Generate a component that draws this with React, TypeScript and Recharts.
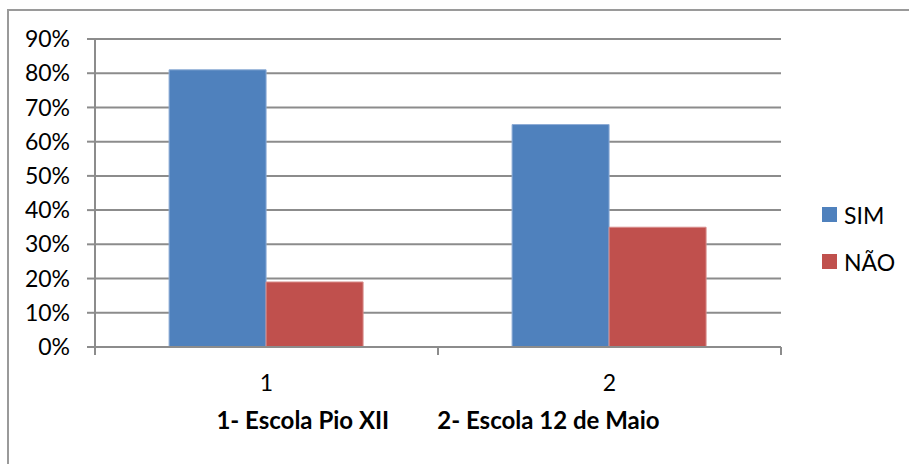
import React from 'react';
import { BarChart, Bar, XAxis, YAxis, CartesianGrid } from 'recharts';

const categories = ['1', '2'];
const sim = [0.81, 0.65];
const nao = [0.19, 0.35];
const yTicks = [0, 0.1, 0.2, 0.3, 0.4, 0.5, 0.6, 0.7, 0.8, 0.9];

const data = categories.map((c, i) => ({ name: c, SIM: sim[i], NAO: nao[i] }));

const FONT = 'Lato, "Open Sans", sans-serif';
const GRAY = '#8c8c8c';

const XTick = (props: any) => {
  const { x, y, payload, index, visibleTicksCount } = props;
  const half = payload.offset || 0;
  const axisY = y - 8;
  return (
    <g>
      <line x1={x - half} y1={axisY} x2={x - half} y2={axisY + 8} stroke={GRAY} strokeWidth={2} />
      {index === visibleTicksCount - 1 && (
        <line x1={x + half} y1={axisY} x2={x + half} y2={axisY + 8} stroke={GRAY} strokeWidth={2} />
      )}
      <text x={x} y={axisY + 44} textAnchor="middle" fontSize={23} fill="#000" fontFamily={FONT}>
        {payload.value}
      </text>
    </g>
  );
};

const legendItems = [
  { label: 'SIM', color: '#4F81BD' },
  { label: 'NÃO', color: '#C0504D' },
];

export default function App() {
  return (
    <div style={{ position: 'absolute', left: 0, top: 0, width: 909, height: 464, overflow: 'hidden', background: '#fff' }}>
      <div style={{ position: 'absolute', left: 7, top: 9, width: 960, height: 500, borderLeft: '2px solid #9a9a9a', borderTop: '2px solid #9a9a9a' }} />
      <BarChart
        width={909}
        height={464}
        data={data}
        margin={{ top: 39, right: 128, left: 7, bottom: 77 }}
        barCategoryGap="21.6%"
        barGap={0}
      >
        <CartesianGrid vertical={false} stroke={GRAY} strokeWidth={2} />
        <XAxis
          dataKey="name"
          height={40}
          axisLine={{ stroke: GRAY, strokeWidth: 2 }}
          tickLine={false}
          tick={<XTick />}
          interval={0}
        />
        <YAxis
          width={88}
          domain={[0, 0.9]}
          ticks={yTicks}
          interval={0}
          tickFormatter={(v: number) => `${Math.round(v * 100)}%`}
          axisLine={{ stroke: GRAY, strokeWidth: 2 }}
          tickLine={{ stroke: GRAY, strokeWidth: 2 }}
          tickSize={8}
          tickMargin={17}
          tick={{ fontSize: 23, fill: '#000', fontFamily: FONT }}
        />
        <Bar dataKey="SIM" name="SIM" fill="#4F81BD" stroke="#8EADD6" strokeWidth={1} isAnimationActive={false} />
        <Bar dataKey="NAO" name="NÃO" fill="#C0504D" stroke="#D88E8C" strokeWidth={1} isAnimationActive={false} />
      </BarChart>
      <div style={{ position: 'absolute', left: 822, top: 191, fontFamily: FONT, fontSize: 23, color: '#000' }}>
        {legendItems.map((it) => (
          <div key={it.label} style={{ display: 'flex', alignItems: 'center', height: 47 }}>
            <span style={{ width: 15, height: 15, background: it.color, display: 'inline-block', marginRight: 7 }} />
            <span>{it.label}</span>
          </div>
        ))}
      </div>
      <div
        style={{
          position: 'absolute',
          left: 0,
          width: 876,
          top: 405,
          textAlign: 'center',
          fontFamily: FONT,
          fontWeight: 'bold',
          fontSize: 24,
          color: '#000',
          whiteSpace: 'pre',
        }}
      >
        <span>1- Escola Pio XII</span>
        <span style={{ marginLeft: 48 }}>2- Escola 12 de Maio</span>
      </div>
    </div>
  );
}
